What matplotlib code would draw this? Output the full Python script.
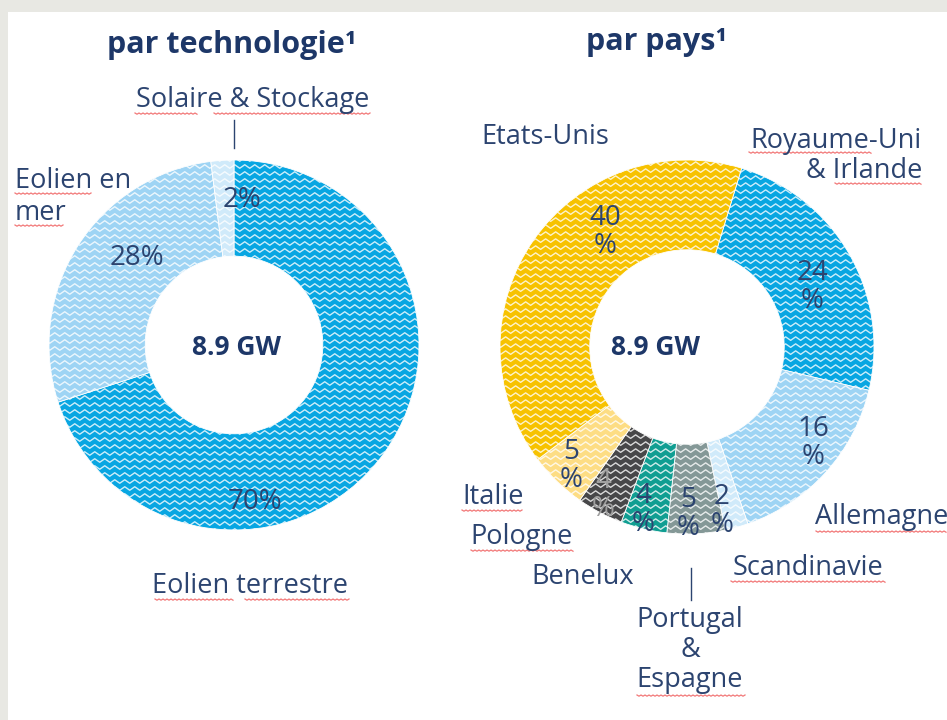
import numpy as np
import matplotlib.pyplot as plt
from matplotlib.patches import Rectangle
from matplotlib.lines import Line2D
from matplotlib.collections import LineCollection

plt.rcParams['font.family'] = ['Open Sans', 'DejaVu Sans']

W, H = 947, 720

# data
tech_labels = ["Eolien terrestre", "Eolien en\nmer", "Solaire & Stockage"]
tech_values = [70, 28, 2]
tech_colors = ["#08a6e2", "#9ed4f4", "#d0eafa"]

pays_labels = ["Royaume-Uni\n& Irlande", "Allemagne", "Scandinavie", "Portugal\n&\nEspagne",
               "Benelux", "Pologne", "Italie", "Etats-Unis"]
pays_values = [24, 16, 2, 5, 4, 4, 5, 40]
pays_colors = ["#08a6e2", "#9ed4f4", "#d0eafa", "#849897", "#109e92", "#474749", "#fddd84", "#f7c200"]

total_label = "8.9 GW"
titles = ["par technologie¹", "par pays¹"]

NAVY = "#2c4470"
TITLE = "#1d3768"
FS = 19.5

# spell-check squiggles seen in the screenshot (x0, x1, y in pixels)
squiggles = [(135, 197, 113), (214, 371, 113), (15, 92, 193), (15, 64, 225),
             (155, 234, 599), (245, 349, 599), (749, 871, 152), (835, 922, 183),
             (816, 947, 531), (731, 885, 581), (637, 745, 695), (471, 574, 550), (462, 523, 510)]


def px(x, y):
    return x / W, 1 - y / H


def texture(ax, wedges, r_px):
    # white zigzag rows, clipped to every wedge
    step = 5 / r_px
    amp = 3.5 / r_px
    xs = np.arange(-1.05, 1.06, step)
    segs = []
    for y0 in np.arange(-1.05, 1.06, 7 / r_px):
        ys = y0 + amp * (np.arange(len(xs)) % 2)
        segs.append(np.column_stack([xs, ys]))
    for w in wedges:
        lc = LineCollection(segs, colors="white", linewidths=1.0, alpha=0.8, zorder=3)
        ax.add_collection(lc)
        lc.set_clip_path(w)


fig = plt.figure(figsize=(W / 100, H / 100), dpi=100, facecolor="#e8e8e3")
fig.patches.append(Rectangle((8 / W, 0), 1, 1 - 12 / H, transform=fig.transFigure,
                             facecolor="white", edgecolor="none", zorder=-10))

# left donut
r1 = 185
ax1 = fig.add_axes([(234 - r1) / W, 1 - (345 + r1) / H, 2 * r1 / W, 2 * r1 / H])
w1, _ = ax1.pie(tech_values, colors=tech_colors, startangle=90, counterclock=False,
                radius=1, wedgeprops=dict(width=0.52, edgecolor="white", linewidth=0.6))
texture(ax1, w1, r1)
ax1.set_xlim(-1, 1)
ax1.set_ylim(-1, 1)
ax1.axis("off")

# right donut
r2 = 187
ax2 = fig.add_axes([(687 - r2) / W, 1 - (347 + r2) / H, 2 * r2 / W, 2 * r2 / H])
w2, _ = ax2.pie(pays_values, colors=pays_colors, startangle=73, counterclock=False,
                radius=1, wedgeprops=dict(width=0.48, edgecolor="white", linewidth=0.6))
texture(ax2, w2, r2)
ax2.set_xlim(-1, 1)
ax2.set_ylim(-1, 1)
ax2.axis("off")

# titles
fig.text(*px(232, 45), titles[0], ha="center", va="center", fontsize=22,
         fontweight="bold", color=TITLE)
fig.text(*px(656, 42), titles[1], ha="center", va="center", fontsize=22,
         fontweight="bold", color=TITLE)

# centre totals
fig.text(*px(236, 347), total_label, ha="center", va="center", fontsize=19,
         fontweight="bold", color=TITLE, zorder=5)
fig.text(*px(655, 347), total_label, ha="center", va="center", fontsize=19,
         fontweight="bold", color=TITLE, zorder=5)

# left labels
fig.text(*px(253, 100), tech_labels[2], ha="center", va="center", fontsize=FS, color=NAVY)
fig.text(*px(15, 197), tech_labels[1], ha="left", va="center", fontsize=FS, color=NAVY,
         linespacing=1.15)
fig.text(*px(250, 586), tech_labels[0], ha="center", va="center", fontsize=FS, color=NAVY)
fig.add_artist(Line2D([234 / W, 234 / W], [1 - 120 / H, 1 - 148 / H], color=NAVY, lw=1))

tech_pct_pos = [(255, 502), (137, 258), (242, 200)]
for v, (x, y) in zip(tech_values, tech_pct_pos):
    fig.text(*px(x, y), f"{v}%", ha="center", va="center", fontsize=20, color=NAVY, zorder=5)

# right labels
pays_label_pos = [(922, 156, "right"), (815, 517, "left"), (733, 568, "left"), (690, 650, "center"),
                  (583, 577, "center"), (522, 537, "center"), (493, 497, "center"), (545, 137, "center")]
for lab, (x, y, ha) in zip(pays_labels, pays_label_pos):
    fig.text(*px(x, y), lab, ha=ha, va="center", fontsize=FS, color=NAVY,
             multialignment="right" if ha == "right" else "center", linespacing=1.1)
fig.add_artist(Line2D([691 / W, 691 / W], [1 - 568 / H, 1 - 600 / H], color=NAVY, lw=1))

pays_pct_pos = [(812, 287), (813, 443), (722, 511), (688, 514), (643, 510), (603, 495),
                (571, 466), (605, 232)]
for i, (v, (x, y)) in enumerate(zip(pays_values, pays_pct_pos)):
    c = "#a0a0a0" if pays_labels[i] == "Pologne" else NAVY
    fig.text(*px(x, y), f"{v}\n%", ha="center", va="center", fontsize=20, color=c,
             linespacing=1.0, zorder=5)

# red wavy underlines
for x0, x1, y in squiggles:
    xs = np.arange(x0, x1 + 0.1, 2.0)
    ys = y + 1.2 * (np.arange(len(xs)) % 2)
    fig.add_artist(Line2D(xs / W, 1 - ys / H, color="#f06060", lw=0.9, alpha=0.85))

fig.savefig("out.png", dpi=100, facecolor=fig.get_facecolor())
